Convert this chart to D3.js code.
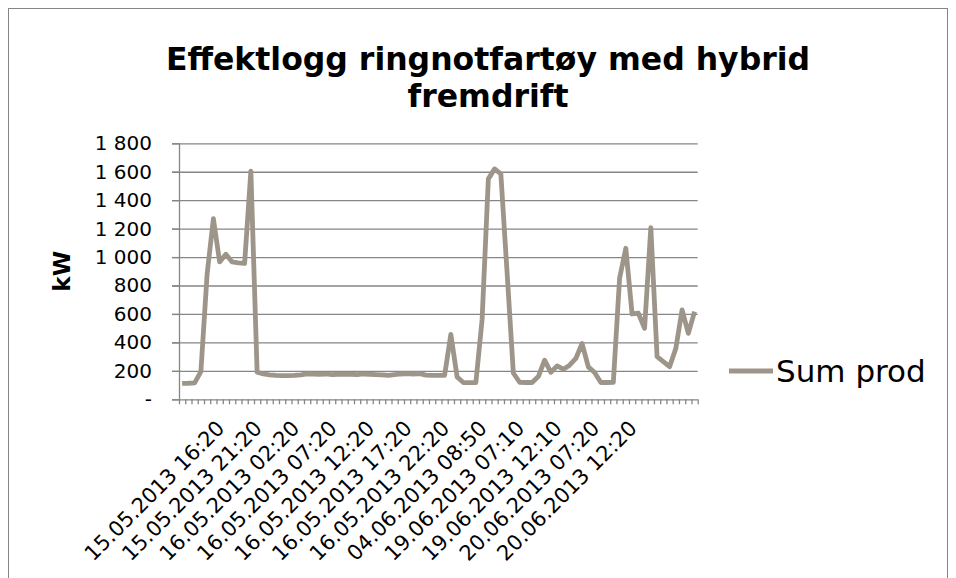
<!DOCTYPE html>
<html lang="no">
<head>
    <meta charset="UTF-8">
    <title>Effektlogg ringnotfartøy med hybrid fremdrift</title>
    <script src="https://d3js.org/d3.v7.min.js"></script>
    <style>
        body {
            margin: 0;
            background: #fff;
            font-family: "DejaVu Sans", Verdana, sans-serif;
        }
        svg { display: block; }
        .grid line { stroke: #868686; stroke-width: 1.3; }
        .grid .domain { display: none; }
        .axis .domain, .axis line { stroke: #868686; stroke-width: 1.3; }
        .axis text { fill: #000; }
    </style>
</head>
<body>
<svg id="chart"></svg>
<script>
    // kW per logged sample
    const values = [
        112, 113, 115, 195, 880, 1270, 966, 1020, 966, 960,
        955, 1605, 190, 178, 172, 168, 166, 166, 168, 172,
        178, 178, 176, 178, 174, 176, 178, 176, 174, 178,
        176, 174, 172, 168, 174, 178, 180, 178, 180, 170,
        168, 168, 168, 457, 157, 118, 117, 117, 560, 1550,
        1620, 1585, 890, 185, 120, 118, 118, 160, 275, 190,
        235, 212, 240, 287, 392, 228, 188, 118, 118, 120,
        851, 1062, 600, 605, 499, 1207, 300, 265, 229, 358,
        628, 464, 616
    ];
    const tickLabels = [
        "15.05.2013 16:20", "15.05.2013 21:20", "16.05.2013 02:20",
        "16.05.2013 07:20", "16.05.2013 12:20", "16.05.2013 17:20",
        "16.05.2013 22:20", "04.06.2013 08:50", "19.06.2013 07:10",
        "19.06.2013 12:10", "20.06.2013 07:20", "20.06.2013 12:20"
    ];
    const labelFirst = 6, labelEvery = 6;
    const yTicks = [0, 200, 400, 600, 800, 1000, 1200, 1400, 1600, 1800];
    const seriesName = "Sum prod";

    const W = 956, H = 578;
    const plotL = 179, plotR = 697.7, plotT = 143.3, plotB = 399.3;
    const lineColor = "#9d958a";

    const svg = d3.select("#chart").attr("width", W).attr("height", H);

    // chart frame
    svg.append("rect")
        .attr("x", 8.5).attr("y", 8.5)
        .attr("width", 939).attr("height", 600)
        .attr("fill", "none").attr("stroke", "#868686");

    const x = d3.scaleBand().domain(d3.range(values.length)).range([plotL, plotR]);
    const xEdge = d3.scaleLinear().domain([0, values.length]).range([plotL, plotR]);
    const y = d3.scaleLinear().domain([0, 1800]).range([plotB, plotT]);

    const fmt = v => v === 0 ? "-" : d3.format(",")(v).replace(/,/g, " ");

    // gridlines, with a short outside tick
    svg.append("g")
        .attr("class", "grid")
        .attr("transform", `translate(${plotL - 7},0)`)
        .call(d3.axisLeft(y).tickValues(yTicks.slice(1)).tickSize(-(plotR - plotL + 7)).tickFormat(""));

    // y axis
    const yAxis = svg.append("g")
        .attr("class", "axis")
        .attr("transform", `translate(${plotL},0)`)
        .call(d3.axisLeft(y).tickValues(yTicks).tickSize(7).tickPadding(20).tickFormat(fmt));
    yAxis.select(".domain").attr("d", `M0.5,${plotT}V${plotB}`);
    yAxis.selectAll("text")
        .style("font-size", "20px")
        .style("font-family", "DejaVu Sans");

    // x axis: a tick between every category
    const xAxis = svg.append("g")
        .attr("class", "axis")
        .attr("transform", `translate(0,${plotB})`)
        .call(d3.axisBottom(xEdge).tickValues(d3.range(values.length + 1)).tickSize(5).tickSizeOuter(0).tickFormat(""));
    xAxis.select(".domain").attr("d", `M${plotL - 7},0.5H${plotR}`);

    // rotated category labels
    svg.append("g")
        .selectAll("text")
        .data(tickLabels)
        .join("text")
        .attr("transform", (d, i) => {
            const cx = x(labelFirst + i * labelEvery) + x.bandwidth() / 2;
            return `translate(${cx + 1},${plotB + 25}) rotate(-45)`;
        })
        .attr("text-anchor", "end")
        .attr("dy", "0.35em")
        .style("font-size", "21px")
        .text(d => d);

    // series line
    const line = d3.line()
        .x((d, i) => x(i) + x.bandwidth() / 2)
        .y(d => y(d));

    svg.append("path")
        .datum(values)
        .attr("fill", "none")
        .attr("stroke", lineColor)
        .attr("stroke-width", 4.8)
        .attr("stroke-linejoin", "round")
        .attr("d", line);

    // title
    const title = svg.append("text")
        .attr("x", 488)
        .attr("text-anchor", "middle")
        .style("font-size", "31.5px")
        .style("font-weight", "bold");
    title.append("tspan").attr("x", 488).attr("y", 70).text("Effektlogg ringnotfartøy med hybrid");
    title.append("tspan").attr("x", 488).attr("y", 107).text("fremdrift");

    // y axis title
    svg.append("text")
        .attr("transform", `translate(70,${(plotT + plotB) / 2}) rotate(-90)`)
        .attr("text-anchor", "middle")
        .style("font-size", "23px")
        .style("font-weight", "bold")
        .text("kW");

    // legend
    const legend = svg.append("g").attr("transform", "translate(729,371)");
    legend.append("line")
        .attr("x1", 0).attr("x2", 44)
        .attr("stroke", lineColor)
        .attr("stroke-width", 4.8);
    legend.append("text")
        .attr("x", 47)
        .attr("dy", "0.35em")
        .style("font-size", "31px")
        .text(seriesName);
</script>
</body>
</html>
